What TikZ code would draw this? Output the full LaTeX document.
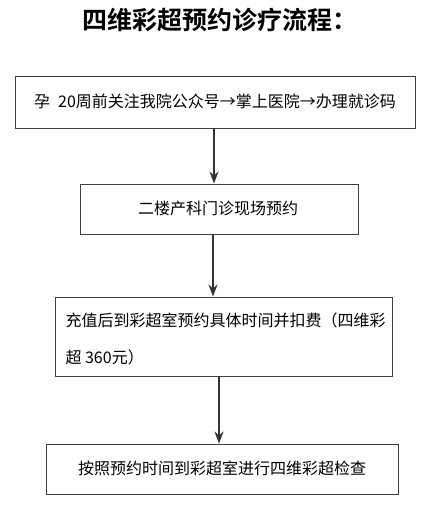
\documentclass[tikz,border=0pt]{standalone}
\usepackage{fontspec}
\setmainfont{Noto Sans CJK SC}
\newfontfamily\titlefont{Noto Sans CJK SC Bold}
\usetikzlibrary{arrows.meta}
\begin{document}
\begin{tikzpicture}[x=1pt,y=-1pt,
  boxstyle/.style={draw=black!75,line width=0.9pt,inner sep=0pt},
  flowarrow/.style={draw=black!80,line width=2.2pt,-{Stealth[length=12pt,width=9pt]}},
  txt/.style={font=\fontsize{16}{18}\selectfont,text=black}]
\useasboundingbox (0,0) rectangle (430,510);
\node[font=\titlefont\fontsize{25}{28}\selectfont] (title) at (220,20) {四维彩超预约诊疗流程：};
\node[boxstyle,minimum width=400pt,minimum height=52pt] (b1) at (215,102) {};
\node[txt] (t1) at (215,101) {孕\hspace{0.5em}20周前关注我院公众号→掌上医院→办理就诊码};
\node[boxstyle,minimum width=278pt,minimum height=50pt] (b2) at (219,209) {};
\node[txt] (t2) at (218,208) {二楼产科门诊现场预约};
\node[boxstyle,minimum width=337pt,minimum height=79pt] (b3) at (223.5,336.5) {};
\node[txt,anchor=west] (t3a) at (62,320) {充值后到彩超室预约具体时间并扣费（四维彩};
\node[txt,anchor=west] (t3b) at (62,357) {超 360元）};
\node[boxstyle,minimum width=352pt,minimum height=50pt] (b4) at (222,469) {};
\node[txt] (t4) at (222,468) {按照预约时间到彩超室进行四维彩超检查};
\coordinate (x1) at (214,0);
\coordinate (x2) at (213,0);
\coordinate (x3) at (219,0);
\draw[flowarrow] (b1.south -| x1) -- (b2.north -| x1);
\draw[flowarrow] (b2.south -| x2) -- (b3.north -| x2);
\draw[flowarrow] (b3.south -| x3) -- (b4.north -| x3);
\end{tikzpicture}
\end{document}
